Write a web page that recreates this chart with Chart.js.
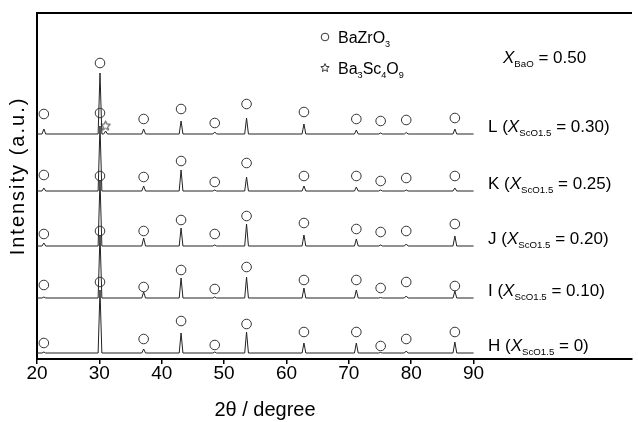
<!DOCTYPE html>
<html lang="en">
<head>
<meta charset="UTF-8">
<title>XRD patterns, X_BaO = 0.50</title>
<style>
  body { margin: 0; background: #fff; }
  #chart { display: block; }
</style>
</head>
<body>
<canvas id="chart" width="638" height="422"></canvas>
<script src="https://cdn.jsdelivr.net/npm/chart.js"></script>
<script>
// x axis: 2theta range shown and its tick labels
const xMin = 20, xMax = 115.4;
const xTicks = [20, 30, 40, 50, 60, 70, 80, 90];

// BaZrO3 reflections (2theta / degree)
const bzPeaks = [21.1, 30.1, 37.1, 43.1, 48.5, 53.6, 62.8, 71.2, 75.1, 79.2, 87.0];
// Ba3Sc4O9 reflection, only in L
const bscPeak = 31.0;

const samples = ['L', 'K', 'J', 'I', 'H'];
const xSc = ['0.30', '0.25', '0.20', '0.10', '0'];
// vertical offset of each pattern (a.u.)
const offsets = [225, 168, 113, 61, 6];

// peak heights above each pattern's baseline, one per BaZrO3 reflection
const heightsL = [5, 61, 5, 13, 2, 16, 10, 4, 1, 1.5, 5];
const heightsK = [3, 65, 5, 21, 1, 14, 5, 4, 1, 1, 3];
const heightsJ = [3, 66, 8, 18, 1, 22, 11, 7, 1, 2, 10];
const heightsI = [1, 63, 6, 20, 1, 21, 10, 8, 0.5, 2, 7];
const heightsH = [1, 63, 4, 20, 1, 21, 10, 10, 0.5, 2, 11];
const bscHeightL = 3;

// circle marker heights (a.u.), null = no marker
const marksL = [245, 246, 240, 250, 236, 255, 247, 240, 238, 239, 241];
const marksK = [184, 183, 182, 198, 177, 196, 183, 183, 178, 181, 183];
const marksJ = [125, 128, 128, 139, 125, 143, 136, 130, 127, 128, 135];
const marksI = [74, 77, 72, 89, 70, 92, 79, 79, 71, 77, 73];
const marksH = [16, null, 20, 38, 14, 35, 27, 27, 13, 20, 27];
const topMarkL = 296;   // circle over the strong peak of L
const starMarkL = 233;

const heights = [heightsL, heightsK, heightsJ, heightsI, heightsH];
const marks = [marksL, marksK, marksJ, marksI, marksH];

const FONT = '"Liberation Sans", Arial, sans-serif';

// stick-like peaks on a flat baseline
function pattern(offset, hs, extra) {
  const peaks = bzPeaks.map((x, i) => [x, hs[i]]);
  if (extra) peaks.push(extra);
  peaks.sort((a, b) => a[0] - b[0]);
  const pts = [{ x: 20, y: offset }];
  peaks.forEach(([x, h]) => {
    pts.push({ x: x - 0.3, y: offset }, { x: x, y: offset + h }, { x: x + 0.3, y: offset });
  });
  pts.push({ x: 90, y: offset });
  return pts;
}

const circles = [{ x: bzPeaks[1], y: topMarkL }];
marks.forEach(m => m.forEach((v, i) => { if (v !== null) circles.push({ x: bzPeaks[i], y: v }); }));

// hollow five-point star marker
function starCanvas(r) {
  const c = document.createElement('canvas');
  const s = Math.ceil(r * 2 + 3);
  c.width = s; c.height = s;
  const g = c.getContext('2d');
  g.strokeStyle = '#333';
  g.lineWidth = 1;
  g.beginPath();
  for (let k = 0; k < 10; k++) {
    const rr = k % 2 ? r * 0.45 : r;
    const a = -Math.PI / 2 + k * Math.PI / 5;
    const px = s / 2 + rr * Math.cos(a), py = s / 2 + rr * Math.sin(a);
    k ? g.lineTo(px, py) : g.moveTo(px, py);
  }
  g.closePath();
  g.stroke();
  return c;
}

const datasets = [
  {
    type: 'scatter', data: [{ x: bscPeak, y: starMarkL }],
    pointStyle: starCanvas(5), pointRadius: 5
  },
  {
    type: 'scatter', data: circles, pointStyle: 'circle', pointRadius: 4.8,
    backgroundColor: 'rgba(255,255,255,0)', borderColor: '#333', borderWidth: 1
  }
];
samples.forEach((s, i) => {
  datasets.push({
    type: 'line', label: s,
    data: pattern(offsets[i], heights[i], i === 0 ? [bscPeak, bscHeightL] : null),
    borderColor: '#222', borderWidth: 1, pointRadius: 0, tension: 0
  });
});

// text with italic and subscript runs, y = baseline
function rich(ctx, parts, x, y, size) {
  ctx.save();
  ctx.textBaseline = 'alphabetic';
  ctx.textAlign = 'left';
  let cx = x;
  parts.forEach(([t, k]) => {
    const fs = k === 's' ? size * 0.57 : size;
    ctx.font = (k === 'i' ? 'italic ' : '') + fs + 'px ' + FONT;
    ctx.fillText(t, cx, k === 's' ? y + size * 0.22 : y);
    cx += ctx.measureText(t).width;
  });
  ctx.restore();
}

const textPlugin = {
  id: 'texts',
  afterDraw(chart) {
    const { ctx, chartArea, scales } = chart;
    ctx.save();
    ctx.fillStyle = '#000';
    ctx.strokeStyle = '#000';

    // top frame line
    ctx.lineWidth = 2;
    ctx.beginPath();
    ctx.moveTo(chartArea.left - 1, chartArea.top);
    ctx.lineTo(chartArea.right, chartArea.top);
    ctx.stroke();

    // legend
    ctx.lineWidth = 1;
    ctx.strokeStyle = '#333';
    ctx.beginPath();
    ctx.arc(325, 37, 3.8, 0, Math.PI * 2);
    ctx.stroke();
    ctx.drawImage(starCanvas(4.4), 325 - 6, 68 - 6);
    rich(ctx, [['BaZrO', ''], ['3', 's']], 338, 43, 16);
    rich(ctx, [['Ba', ''], ['3', 's'], ['Sc', ''], ['4', 's'], ['O', ''], ['9', 's']], 338, 74, 16);

    rich(ctx, [['X', 'i'], ['BaO', 's'], [' = 0.50', '']], 503, 63, 17);

    // sample labels next to each pattern
    samples.forEach((s, i) => {
      const y = scales.y.getPixelForValue(offsets[i]) - 2;
      rich(ctx, [[s + ' (', ''], ['X', 'i'], ['ScO1.5', 's'], [' = ' + xSc[i] + ')', '']], 488, y, 17);
    });

    // axis titles
    ctx.textBaseline = 'middle';
    ctx.textAlign = 'center';
    ctx.font = '20px ' + FONT;
    ctx.fillText('2\u03b8 / degree', 265, 410);

    ctx.translate(18, 176);
    ctx.rotate(-Math.PI / 2);
    ctx.letterSpacing = '2px';
    ctx.fillText('Intensity (a.u.)', 0, 0);
    ctx.restore();
  }
};

new Chart(document.getElementById('chart'), {
  data: { datasets },
  options: {
    responsive: false,
    animation: false,
    layout: { padding: { top: 13, right: 0, left: 0, bottom: 0 } },
    plugins: { legend: { display: false }, tooltip: { enabled: false } },
    scales: {
      x: {
        type: 'linear', min: xMin, max: xMax,
        afterBuildTicks: sc => { sc.ticks = xTicks.map(v => ({ value: v })); },
        afterFit: sc => { sc.height = 63; },
        ticks: { color: '#000', font: { family: FONT, size: 19 }, padding: -2, maxRotation: 0, autoSkip: false },
        grid: { drawOnChartArea: false, drawTicks: true, tickLength: 5, color: '#000', lineWidth: 1.5 },
        border: { display: true, color: '#000', width: 2 }
      },
      y: {
        min: 0, max: 346,
        afterFit: sc => { sc.width = 37; },
        ticks: { display: false },
        grid: { display: false, drawTicks: false },
        border: { display: true, color: '#000', width: 2 }
      }
    }
  },
  plugins: [textPlugin]
});
</script>
</body>
</html>
